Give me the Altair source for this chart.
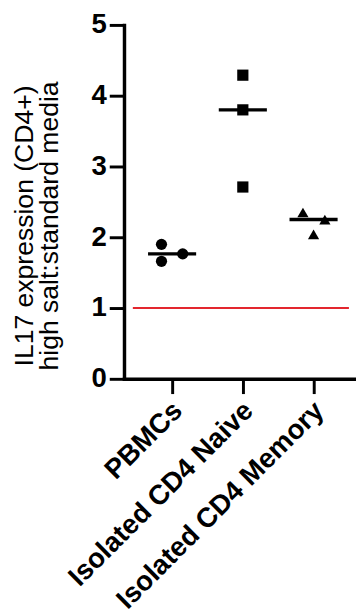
import json
import altair as alt
import pandas as pd

# ---- data ----
groups = ["PBMCs", "Isolated CD4 Naive", "Isolated CD4 Memory"]
pbmc_vals = [1.90, 1.66, 1.765]
naive_vals = [4.29, 3.80, 2.71]
memory_vals = [2.35, 2.25, 2.04]
# horizontal scatter of the points within each group (category units)
pbmc_jitter = [-0.15, -0.15, 0.15]
naive_jitter = [0.0, 0.0, 0.0]
memory_jitter = [-0.15, 0.16, 0.0]
reference_value = [1.0]
reference_span = [-0.555, 2.5]
y_ticks = [0, 1, 2, 3, 4, 5]
y_title = ["IL17 expression (CD4+)", "high salt:standard media"]

rows = []
for i, (vals, jit) in enumerate([(pbmc_vals, pbmc_jitter),
                                 (naive_vals, naive_jitter),
                                 (memory_vals, memory_jitter)]):
    for v, j in zip(vals, jit):
        rows.append({"group": groups[i], "idx": i, "value": v, "xpos": i + j})
df = pd.DataFrame(rows)
ref_df = pd.DataFrame({"x1": [reference_span[0]], "x2": [reference_span[1]],
                       "y": reference_value})

FONT = "Liberation Sans"
label_expr = json.dumps(groups) + "[datum.value]"

x_scale = alt.Scale(domain=[-0.68, 2.6], nice=False, zero=False)
y_scale = alt.Scale(domain=[0, 5], nice=False, zero=True)

x_axis = alt.Axis(
    values=[0, 1, 2], labelExpr=label_expr, title=None, grid=False,
    labelAngle=315, labelAlign="right", labelBaseline="top",
    labelFont=FONT, labelFontSize=28, labelFontWeight="bold", labelColor="black",
    labelPadding=3, labelOverlap=False, labelFlush=False, labelBound=False,
    labelLimit=0, labelOffset=-4,
    tickSize=15, tickWidth=3, tickColor="black",
    domainColor="black", domainWidth=3.5, domainCap="square",
)
y_axis = alt.Axis(
    values=y_ticks, format="d", grid=False,
    title=y_title, titleFont=FONT, titleFontSize=27, titleFontWeight="normal",
    titleColor="black", titleX=-93, titleY=204, titleAngle=270,
    titleAlign="center", titleBaseline="alphabetic", titleLineHeight=25,
    labelFont=FONT, labelFontSize=28, labelFontWeight="bold", labelColor="black",
    labelPadding=3, tickSize=15, tickWidth=3, tickColor="black",
    domainColor="black", domainWidth=3.5, domainCap="square",
)

ref_line = alt.Chart(ref_df).mark_rule(color="#e3262e", strokeWidth=2).encode(
    x=alt.X("x1:Q", scale=x_scale, axis=x_axis),
    x2="x2:Q",
    y=alt.Y("y:Q", scale=y_scale, axis=y_axis),
)

medians = alt.Chart(df).transform_aggregate(
    med="median(value)", groupby=["idx"]
).transform_calculate(
    lo="datum.idx - 0.34", hi="datum.idx + 0.34"
).mark_rule(color="black", strokeWidth=3.5).encode(
    x=alt.X("lo:Q", scale=x_scale, axis=x_axis),
    x2="hi:Q",
    y=alt.Y("med:Q", scale=y_scale, axis=y_axis),
)

points = alt.Chart(df).mark_point(filled=True, opacity=1, color="black", size=130).encode(
    x=alt.X("xpos:Q", scale=x_scale, axis=x_axis),
    y=alt.Y("value:Q", scale=y_scale, axis=y_axis),
    shape=alt.Shape("group:N", scale=alt.Scale(domain=groups,
                    range=["circle", "square", "triangle-up"]), legend=None),
)

chart = alt.layer(ref_line, medians, points).properties(
    width=236, height=360,
    autosize=alt.AutoSizeParams(type="none"),
    padding={"left": 118, "top": 12, "right": 0, "bottom": 233},
).configure_view(stroke=None)

chart.save("out.html", embed_options={"renderer": "svg", "actions": False})
